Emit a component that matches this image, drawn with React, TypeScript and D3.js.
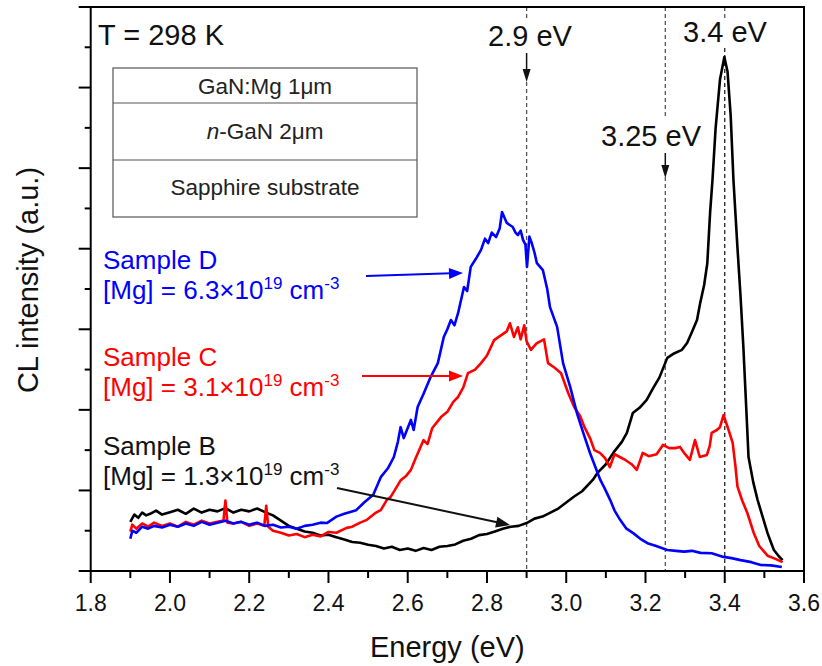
import React from "react";
import * as d3 from "d3";

const xMajorTicks = [1.8, 2.0, 2.2, 2.4, 2.6, 2.8, 3.0, 3.2, 3.4, 3.6];
const xMinorTicks = [1.9, 2.1, 2.3, 2.5, 2.7, 2.9, 3.1, 3.3, 3.5];
const yMajorTicks = [0, 2, 4, 6, 8, 10, 12, 14];
const yMinorTicks = [1, 3, 5, 7, 9, 11, 13];

// Sample B (black): [energy eV, CL intensity a.u.]
const sampleB: [number, number][] = [
  [1.9, 1.22], [1.91, 1.4], [1.92, 1.32], [1.93, 1.45], [1.94, 1.38], [1.95, 1.42], [1.965, 1.5], [1.98, 1.4],
  [2.0, 1.46], [2.02, 1.52], [2.04, 1.42], [2.06, 1.55], [2.08, 1.45], [2.1, 1.52], [2.12, 1.48], [2.14, 1.56],
  [2.16, 1.45], [2.18, 1.52], [2.2, 1.48], [2.22, 1.55], [2.24, 1.46], [2.26, 1.38], [2.28, 1.25], [2.3, 1.12],
  [2.32, 1.05], [2.34, 0.98], [2.36, 0.95], [2.38, 0.88], [2.4, 0.9], [2.42, 0.84], [2.44, 0.78], [2.46, 0.72],
  [2.48, 0.7], [2.5, 0.65], [2.52, 0.62], [2.54, 0.56], [2.56, 0.6], [2.58, 0.52], [2.6, 0.56], [2.62, 0.5],
  [2.64, 0.57], [2.66, 0.52], [2.68, 0.6], [2.7, 0.62], [2.72, 0.66], [2.74, 0.75], [2.76, 0.8], [2.78, 0.89],
  [2.8, 0.92], [2.82, 0.98], [2.84, 1.05], [2.86, 1.1], [2.88, 1.12], [2.9, 1.19], [2.92, 1.3], [2.94, 1.35],
  [2.96, 1.45], [2.98, 1.55], [3.0, 1.7], [3.02, 1.85], [3.04, 1.98], [3.067, 2.26], [3.08, 2.45], [3.1, 2.65],
  [3.12, 2.95], [3.14, 3.2], [3.153, 3.43], [3.168, 3.92], [3.185, 4.05], [3.203, 4.25], [3.22, 4.55],
  [3.235, 4.8], [3.255, 5.29], [3.272, 5.4], [3.292, 5.49], [3.305, 5.66], [3.318, 5.95], [3.33, 6.23],
  [3.338, 6.65], [3.348, 7.1], [3.356, 7.64], [3.363, 8.89], [3.369, 9.7], [3.377, 11.0], [3.388, 12.2],
  [3.399, 12.76], [3.407, 12.4], [3.415, 11.3], [3.422, 9.7], [3.432, 8.04], [3.44, 6.8], [3.447, 5.56],
  [3.454, 4.1], [3.46, 2.83], [3.472, 2.2], [3.483, 1.76], [3.497, 1.3], [3.508, 0.94], [3.517, 0.7],
  [3.524, 0.52], [3.537, 0.36], [3.546, 0.27],
];

// Sample C (red)
const sampleC: [number, number][] = [
  [1.9, 0.98], [1.905, 1.15], [1.915, 1.05], [1.93, 1.18], [1.945, 1.1], [1.96, 1.2], [1.98, 1.12], [2.0, 1.18],
  [2.02, 1.1], [2.04, 1.22], [2.06, 1.15], [2.08, 1.25], [2.1, 1.18], [2.12, 1.22], [2.135, 1.25], [2.14, 1.75],
  [2.145, 1.2], [2.16, 1.18], [2.18, 1.22], [2.2, 1.12], [2.22, 1.18], [2.238, 1.12], [2.243, 1.62],
  [2.248, 1.1], [2.26, 1.0], [2.28, 0.95], [2.3, 0.88], [2.32, 0.92], [2.34, 0.84], [2.36, 0.9], [2.38, 0.86],
  [2.4, 0.97], [2.42, 0.95], [2.446, 1.07], [2.46, 1.1], [2.48, 1.2], [2.497, 1.27], [2.52, 1.45],
  [2.532, 1.51], [2.547, 1.76], [2.557, 1.84], [2.57, 2.05], [2.582, 2.25], [2.595, 2.35], [2.608, 2.51],
  [2.62, 2.8], [2.64, 3.25], [2.65, 3.15], [2.662, 3.55], [2.684, 3.82], [2.7, 3.95], [2.715, 4.2],
  [2.727, 4.32], [2.74, 4.55], [2.752, 4.91], [2.77, 5.0], [2.785, 5.16], [2.8, 5.35], [2.818, 5.73],
  [2.835, 5.85], [2.85, 5.95], [2.858, 6.15], [2.868, 5.81], [2.878, 6.05], [2.885, 5.75], [2.894, 6.1],
  [2.9, 5.7], [2.911, 5.49], [2.925, 5.65], [2.944, 5.75], [2.954, 5.16], [2.97, 5.05], [2.987, 4.91],
  [3.005, 4.42], [3.02, 4.07], [3.035, 3.85], [3.046, 3.57], [3.06, 3.3], [3.071, 3.0], [3.085, 2.93],
  [3.098, 2.8], [3.11, 2.58], [3.122, 2.9], [3.135, 2.83], [3.15, 2.75], [3.165, 2.65], [3.178, 2.51],
  [3.193, 2.93], [3.208, 2.85], [3.228, 2.9], [3.244, 3.13], [3.26, 3.05], [3.275, 3.05], [3.287, 3.08],
  [3.3, 2.9], [3.312, 2.76], [3.325, 3.25], [3.337, 2.83], [3.355, 2.88], [3.362, 3.1], [3.367, 3.43],
  [3.38, 3.5], [3.388, 3.57], [3.397, 3.87], [3.408, 3.55], [3.42, 3.18], [3.427, 2.6], [3.432, 2.1],
  [3.444, 1.75], [3.457, 1.44], [3.473, 0.95], [3.487, 0.62], [3.508, 0.38], [3.528, 0.3], [3.546, 0.22],
];

// Sample D (blue)
const sampleD: [number, number][] = [
  [1.9, 0.8], [1.905, 1.0], [1.915, 0.95], [1.93, 1.1], [1.945, 1.05], [1.96, 1.12], [1.98, 1.08], [2.0, 1.15],
  [2.02, 1.1], [2.04, 1.18], [2.06, 1.12], [2.08, 1.22], [2.1, 1.15], [2.12, 1.2], [2.14, 1.25], [2.16, 1.18],
  [2.18, 1.22], [2.2, 1.15], [2.22, 1.2], [2.24, 1.12], [2.26, 1.15], [2.28, 1.08], [2.3, 1.1], [2.32, 1.05],
  [2.34, 1.12], [2.36, 1.15], [2.38, 1.2], [2.396, 1.19], [2.42, 1.35], [2.44, 1.42], [2.47, 1.51],
  [2.49, 1.7], [2.513, 1.89], [2.532, 2.33], [2.55, 2.55], [2.565, 2.83], [2.575, 3.2], [2.582, 3.57],
  [2.59, 3.3], [2.6, 3.55], [2.608, 3.75], [2.615, 3.5], [2.625, 4.07], [2.64, 4.4], [2.658, 4.82],
  [2.676, 5.16], [2.691, 5.81], [2.7, 6.0], [2.709, 6.23], [2.718, 6.1], [2.727, 6.4], [2.742, 7.05],
  [2.75, 6.95], [2.759, 7.55], [2.772, 7.75], [2.785, 7.97], [2.795, 8.25], [2.803, 8.14], [2.812, 8.4],
  [2.823, 8.29], [2.832, 8.5], [2.838, 8.91], [2.85, 8.64], [2.865, 8.54], [2.872, 8.4], [2.878, 8.34],
  [2.885, 8.45], [2.891, 8.22], [2.897, 8.1], [2.901, 7.55], [2.907, 8.3], [2.913, 8.14], [2.92, 7.9],
  [2.926, 7.64], [2.941, 7.47], [2.952, 7.0], [2.959, 6.55], [2.977, 6.06], [2.992, 5.16], [3.01, 4.57],
  [3.027, 3.92], [3.043, 3.43], [3.06, 2.93], [3.086, 2.26], [3.097, 2.05], [3.111, 1.76], [3.122, 1.5],
  [3.136, 1.27], [3.152, 1.05], [3.169, 0.94], [3.187, 0.8], [3.205, 0.69], [3.227, 0.62], [3.255, 0.52],
  [3.277, 0.5], [3.297, 0.48], [3.317, 0.5], [3.339, 0.45], [3.367, 0.44], [3.397, 0.35], [3.417, 0.32],
  [3.44, 0.27], [3.467, 0.22], [3.491, 0.15], [3.517, 0.14], [3.544, 0.1],
];

const series = [
  { name: "Sample B", color: "#000000", data: sampleB },
  { name: "Sample C", color: "#ff0000", data: sampleC },
  { name: "Sample D", color: "#0000ff", data: sampleD },
];

const FONT = "'Liberation Sans', Arial, Helvetica, sans-serif";

function Arrow({ x1, y1, x2, y2, color, head = 13, half = 5, width = 1.8 }: any) {
  const ang = Math.atan2(y2 - y1, x2 - x1);
  const bx = x2 - head * Math.cos(ang);
  const by = y2 - head * Math.sin(ang);
  const px = -Math.sin(ang) * half;
  const py = Math.cos(ang) * half;
  return (
    <g>
      <line x1={x1} y1={y1} x2={bx + Math.cos(ang) * 2} y2={by + Math.sin(ang) * 2} stroke={color} strokeWidth={width} />
      <polygon points={`${x2},${y2} ${bx + px},${by + py} ${bx - px},${by - py}`} fill={color} />
    </g>
  );
}

function SampleLabel({ x, y, color, title, mg }: any) {
  return (
    <g fill={color} fontFamily={FONT} fontSize={26}>
      <text x={x} y={y}>{title}</text>
      <text x={x} y={y + 30}>
        <tspan>{`[Mg] = ${mg}×10`}</tspan>
        <tspan dy={-10} fontSize={17}>19</tspan>
        <tspan dy={10}> cm</tspan>
        <tspan dy={-10} fontSize={17}>-3</tspan>
      </text>
    </g>
  );
}

export default function App() {
  const W = 822, H = 666;
  const left = 90.7, right = 804, top = 7, bottom = 571;
  const x = d3.scaleLinear().domain([1.8, 3.6]).range([left, right]);
  const y = d3.scaleLinear().domain([0, 14]).range([bottom, top]);
  const line = d3.line<[number, number]>().x((d) => x(d[0])).y((d) => y(d[1]));

  const x29 = x(2.9), x325 = x(3.25), x34 = x(3.4);
  const dash = "4,3";

  return (
    <svg width={W} height={H} style={{ position: "absolute", left: 0, top: 0, background: "#fff" }}>
      {/* dashed marker lines */}
      <g stroke="#555" strokeWidth={1.3} strokeDasharray={dash}>
        <line x1={x29} x2={x29} y1={top} y2={20} />
        <line x1={x29} x2={x29} y1={82} y2={bottom} />
        <line x1={x325} x2={x325} y1={top} y2={118} />
        <line x1={x325} x2={x325} y1={177} y2={bottom} />
        <line x1={x34} x2={x34} y1={top} y2={20} />
        <line x1={x34} x2={x34} y1={48} y2={bottom} stroke="#222" />
      </g>

      {/* curves */}
      {series.map((s) => (
        <path key={s.name} d={line(s.data) || ""} fill="none" stroke={s.color} strokeWidth={2.6} strokeLinejoin="round" />
      ))}

      {/* axes frame */}
      <rect x={left} y={top} width={right - left} height={bottom - top} fill="none" stroke="#000" strokeWidth={2} />
      <g stroke="#000" strokeWidth={2}>
        {xMajorTicks.map((t) => (
          <line key={"xM" + t} x1={x(t)} x2={x(t)} y1={bottom} y2={bottom + 12} />
        ))}
        {xMinorTicks.map((t) => (
          <line key={"xm" + t} x1={x(t)} x2={x(t)} y1={bottom} y2={bottom + 7} />
        ))}
        {yMajorTicks.map((t) => (
          <line key={"yM" + t} x1={left - 12} x2={left} y1={y(t)} y2={y(t)} />
        ))}
        {yMinorTicks.map((t) => (
          <line key={"ym" + t} x1={left - 6} x2={left} y1={y(t)} y2={y(t)} />
        ))}
      </g>
      <g fontFamily={FONT} fontSize={23} textAnchor="middle" fill="#111">
        {xMajorTicks.map((t) => (
          <text key={"xl" + t} x={x(t)} y={611}>{t.toFixed(1)}</text>
        ))}
      </g>
      <text x={(left + right) / 2} y={657} fontFamily={FONT} fontSize={29} textAnchor="middle" fill="#111">Energy (eV)</text>
      <text transform="translate(38,280) rotate(-90)" fontFamily={FONT} fontSize={29} textAnchor="middle" fill="#111">CL intensity (a.u.)</text>

      {/* annotations */}
      <g fontFamily={FONT} fontSize={29} fill="#111">
        <text x={98} y={45}>T = 298 K</text>
        <text x={530} y={46} textAnchor="middle">2.9 eV</text>
        <text x={651} y={146} textAnchor="middle">3.25 eV</text>
        <text x={725} y={42} textAnchor="middle">3.4 eV</text>
      </g>
      <Arrow x1={x29} y1={53} x2={x29} y2={82} color="#111" head={13} half={4} width={1.5} />
      <Arrow x1={x325} y1={153} x2={x325} y2={178} color="#111" head={13} half={4} width={1.5} />

      {/* layer structure box */}
      <g stroke="#555" strokeWidth={1.2} fill="none">
        <rect x={113} y={68} width={304} height={149} />
        <line x1={113} x2={417} y1={103} y2={103} />
        <line x1={113} x2={417} y1={160} y2={160} />
      </g>
      <g fontFamily={FONT} fontSize={22.5} textAnchor="middle" fill="#222">
        <text x={265} y={94}>GaN:Mg 1μm</text>
        <text x={265} y={139}>
          <tspan fontStyle="italic">n</tspan>-GaN 2μm
        </text>
        <text x={265} y={195}>Sapphire substrate</text>
      </g>

      {/* sample labels */}
      <SampleLabel x={103} y={269} color="#0000ff" title="Sample D" mg="6.3" />
      <SampleLabel x={103} y={366} color="#ff0000" title="Sample C" mg="3.1" />
      <SampleLabel x={103} y={455} color="#111" title="Sample B" mg="1.3" />
      <Arrow x1={366} y1={276} x2={463} y2={273} color="#0000ff" head={14} half={5.5} width={2} />
      <Arrow x1={362} y1={376} x2={463} y2={376} color="#ff0000" head={14} half={5.5} width={2} />
      <Arrow x1={337} y1={488} x2={510} y2={525} color="#111" head={14} half={5.5} width={2} />
    </svg>
  );
}
